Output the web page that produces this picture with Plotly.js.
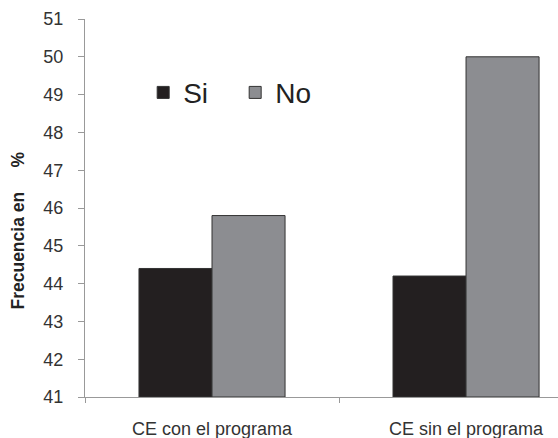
<!DOCTYPE html>
<html>
<head>
<meta charset="utf-8">
<script src="https://cdn.plot.ly/plotly-3.0.1.min.js"></script>
<style>html,body{margin:0;padding:0;background:#fff;}#chart{width:558px;height:438px;}</style>
</head>
<body>
<div id="chart"></div>
<script>
const categories = ["CE con el programa", "CE sin el programa"];
const siValues = [44.4, 44.2];
const noValues = [45.8, 50.0];
const seriesNames = ["Si", "No"];
const yTickVals = [41, 42, 43, 44, 45, 46, 47, 48, 49, 50, 51];
const yBase = 41;

const FONT = "Arial, 'Liberation Sans', sans-serif";

const traces = [
  {
    type: "bar", name: seriesNames[0], x: categories,
    y: siValues.map(v => v - yBase), base: yBase,
    marker: {color: "#231f20", line: {color: "#333333", width: 1}}
  },
  {
    type: "bar", name: seriesNames[1], x: categories,
    y: noValues.map(v => v - yBase), base: yBase,
    marker: {color: "#8c8d91", line: {color: "#333333", width: 1}}
  }
];

const layout = {
  width: 558, height: 438,
  margin: {l: 85, r: 0, t: 19, b: 41, pad: 0},
  paper_bgcolor: "#ffffff", plot_bgcolor: "#ffffff",
  font: {family: FONT, color: "#333333"},
  barmode: "group",
  bargap: 0.425,
  bargroupgap: 0,
  showlegend: true,
  legend: {
    orientation: "h", x: 0.123, y: 0.805, xanchor: "left", yanchor: "middle",
    font: {size: 28, color: "#222222", family: FONT},
    bgcolor: "rgba(0,0,0,0)", itemwidth: 30, entrywidth: 47, traceorder: "normal"
  },
  xaxis: {
    type: "category",
    range: [-0.5, 1.362],
    showline: true, linecolor: "#999999", linewidth: 1,
    ticks: "outside", tickson: "boundaries", ticklen: 5, tickcolor: "#999999",
    showgrid: false, zeroline: false,
    tickfont: {size: 18, color: "#333333", family: FONT},
    ticklabelstandoff: 15,
    fixedrange: true
  },
  yaxis: {
    range: [41, 51],
    tickmode: "array", tickvals: yTickVals, ticktext: yTickVals.map(String),
    showline: true, linecolor: "#999999", linewidth: 1,
    ticks: "outside", ticklen: 6, tickcolor: "#999999",
    showgrid: false, zeroline: false,
    tickfont: {size: 18, color: "#333333", family: FONT},
    ticklabelstandoff: 11,
    fixedrange: true
  },
  annotations: [
    {
      xref: "paper", yref: "paper", x: -0.142, y: 0.44,
      xanchor: "center", yanchor: "middle", textangle: -90, showarrow: false,
      text: "<b>Frecuencia en\u00A0\u00A0\u00A0\u00A0\u00A0%</b>",
      font: {size: 17.5, color: "#222222", family: FONT}
    }
  ]
};

Plotly.newPlot("chart", traces, layout, {displayModeBar: false, staticPlot: true});
</script>
</body>
</html>
